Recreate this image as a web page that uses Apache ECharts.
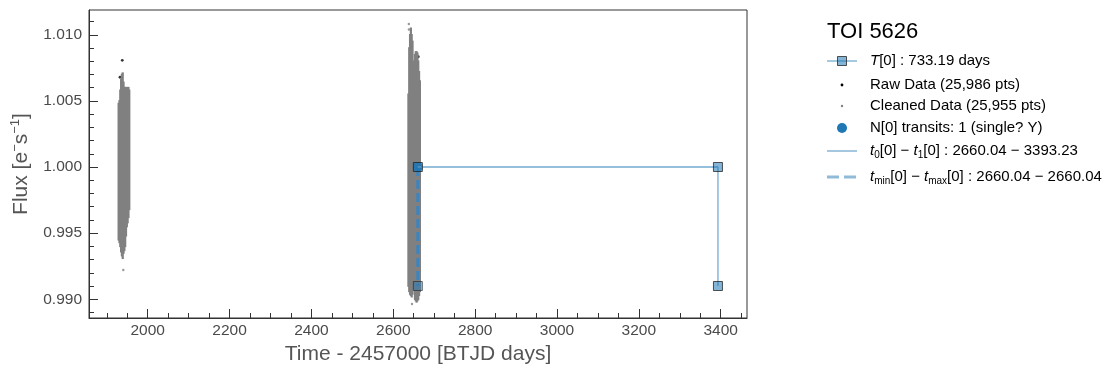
<!DOCTYPE html>
<html><head><meta charset="utf-8">
<script src="https://cdn.jsdelivr.net/npm/echarts@6/dist/echarts.min.js"></script>
<style>html,body{margin:0;padding:0;background:#fff}#c{width:1117px;height:373px}</style>
</head><body><div id="c"></div>
<script>
// ---- data ----
// cleaned-data envelope per ~2-day column: [time, fluxLow, fluxHigh]
const sector1Cols = [
  [1929, 0.9945, 1.0048], [1931, 0.9943, 1.0050], [1933, 0.9940, 1.0058],
  [1935, 0.9936, 1.0066], [1937, 0.9933, 1.0070], [1939, 0.9931, 1.0071],
  [1941, 0.9935, 1.0064],
  [1943, 0.9937, 1.0060], [1945, 0.9940, 1.0060], [1947, 0.9948, 1.0060],
  [1949, 0.9955, 1.0058], [1951, 0.9958, 1.0060], [1953, 0.9962, 1.0060],
  [1955, 0.9968, 1.0058]
];
const sector2Cols = [
  [2637, 0.9910, 1.0055], [2639, 0.9906, 1.0090], [2641, 0.9904, 1.0100],
  [2643, 0.9903, 1.0105], [2645, 0.9902, 1.0100], [2647, 0.9904, 1.0095],
  [2649, 0.9908, 1.0080],
  [2653, 0.9900, 1.0085], [2655, 0.9899, 1.0087], [2657, 0.9898, 1.0087],
  [2659, 0.9899, 1.0086], [2661, 0.9900, 1.0080], [2663, 0.9903, 1.0072],
  [2665, 0.9906, 1.0065]
];
// isolated cleaned points outside the dense band
const cleanedOutliers = [
  [1940.4, 0.99221], [2645.7, 0.98964], [2638.0, 1.01082], [2638.2, 1.01040]
];
// raw points removed by cleaning
const rawOutliers = [
  [1937.9, 1.00807], [1932.3, 1.00679], [1947.0, 1.00567], [1951.1, 1.00542],
  [2661.1, 1.00834], [2650.6, 1.00653], [2640.1, 1.00537]
];
const transitTime = [2660.04];
const transitFlux = [1.0];
const periodPath = [[2660.04, 1.0], [3393.23, 1.0], [3393.23, 0.991]];
const periodBase = [[2660.04, 0.991]];
const t0t1Line = [[2660.04, 1.0], [3393.23, 1.0]];
const tminTmaxLine = [[2660.04, 1.0], [2660.04, 0.991]];

const xMajorTicks = [2000, 2200, 2400, 2600, 2800, 3000, 3200, 3400];
const xMinorTicks = [1900, 1950, 2050, 2100, 2150, 2250, 2300, 2350, 2450, 2500, 2550,
  2650, 2700, 2750, 2850, 2900, 2950, 3050, 3100, 3150, 3250, 3300, 3350, 3450];
const yMajorTicks = [0.990, 0.995, 1.000, 1.005, 1.010];
const yMinorTicks = [0.989, 0.991, 0.992, 0.993, 0.994, 0.996, 0.997, 0.998, 0.999,
  1.001, 1.002, 1.003, 1.004, 1.006, 1.007, 1.008, 1.009, 1.011];

const titleText = 'TOI 5626';
const legendLabels = [
  '{i|T}[0] : 733.19 days',
  'Raw Data (25,986 pts)',
  'Cleaned Data (25,955 pts)',
  'N[0] transits: 1 (single? Y)',
  '{i|t}{sub|0}[0] − {i|t}{sub|1}[0] : 2660.04 − 3393.23',
  '{i|t}{sub|min}[0] − {i|t}{sub|max}[0] : 2660.04 − 2660.04'
];

// ---- chart ----
const FONT = '"Liberation Sans", Arial, sans-serif';
const chart = echarts.init(document.getElementById('c'), null, {renderer: 'canvas'});
const X_MIN = 1856.6, X_MAX = 3464.2, Y_MIN = 0.98858, Y_MAX = 1.011876;
const COL_DAYS = 2;
const LIGHT_BLUE = '#8fbbd9';
const SQUARE_FILL = 'rgba(31,119,180,0.55)';
const SQUARE_EDGE = 'rgba(30,30,30,0.75)';

function renderBand(params, api) {
  const t = api.value(0), lo = api.value(1), hi = api.value(2);
  const a = api.coord([t, hi]);
  const b = api.coord([t, lo]);
  const w = api.size([COL_DAYS, 0])[0] + 1.4;
  return {
    type: 'rect',
    shape: {x: a[0] - w / 2, y: a[1] - 0.8, width: w, height: b[1] - a[1] + 1.6},
    style: {fill: '#808080'}
  };
}

// ---- hand-built legend (graphic) ----
const LX0 = 827, LX1 = 857, LXC = 842, TX = 870;
const legendY = [61, 85, 106, 128, 151, 177];
const richLegend = {
  i: {fontStyle: 'italic', fontSize: 15, fontFamily: FONT, fill: '#000', lineHeight: 18},
  sub: {fontSize: 10, fontFamily: FONT, fill: '#000', lineHeight: 10, verticalAlign: 'bottom'}
};
const legendGraphics = [];
legendGraphics.push({type: 'line', shape: {x1: LX0, y1: legendY[0], x2: LX1, y2: legendY[0]}, style: {stroke: LIGHT_BLUE, lineWidth: 1.6}});
legendGraphics.push({type: 'rect', shape: {x: LXC - 4.5, y: legendY[0] - 4.5, width: 9, height: 9}, style: {fill: SQUARE_FILL, stroke: SQUARE_EDGE, lineWidth: 1}});
legendGraphics.push({type: 'circle', shape: {cx: LXC, cy: legendY[1], r: 1.4}, style: {fill: '#000'}});
legendGraphics.push({type: 'circle', shape: {cx: LXC, cy: legendY[2], r: 1.2}, style: {fill: '#808080'}});
legendGraphics.push({type: 'circle', shape: {cx: LXC, cy: legendY[3], r: 5}, style: {fill: '#1f77b4'}});
legendGraphics.push({type: 'line', shape: {x1: LX0, y1: legendY[4], x2: LX1, y2: legendY[4]}, style: {stroke: LIGHT_BLUE, lineWidth: 1.6}});
legendGraphics.push({type: 'line', shape: {x1: LX0, y1: legendY[5], x2: LX1, y2: legendY[5]}, style: {stroke: LIGHT_BLUE, lineWidth: 3, lineDash: [12, 5]}});
legendLabels.forEach((txt, k) => {
  legendGraphics.push({
    type: 'text', x: TX, y: legendY[k],
    style: {text: txt, fontSize: 15, fontFamily: FONT, fill: '#000', verticalAlign: 'middle', align: 'left', rich: richLegend}
  });
});

const option = {
  animation: false,
  backgroundColor: '#fff',
  title: {
    text: titleText, left: 827, top: 21, padding: 0,
    textStyle: {fontSize: 22, fontWeight: 'normal', color: '#000', fontFamily: FONT}
  },
  graphic: legendGraphics,
  grid: {left: 89, top: 10, width: 658, height: 308, show: true, borderColor: '#333', borderWidth: 1, backgroundColor: 'transparent'},
  xAxis: [{
    type: 'value', min: X_MIN, max: X_MAX, gridIndex: 0, position: 'bottom',
    name: 'Time - 2457000 [BTJD days]', nameLocation: 'middle', nameGap: 23,
    nameTextStyle: {fontSize: 21, color: '#555', fontFamily: FONT},
    axisLine: {show: true, lineStyle: {color: '#333'}},
    axisTick: {show: true, inside: true, length: 9, customValues: xMajorTicks, lineStyle: {color: '#333'}},
    axisLabel: {show: true, customValues: xMajorTicks, margin: 5, fontSize: 15.5, color: '#4a4a4a', fontFamily: FONT,
      formatter: (v) => String(Math.round(v))},
    splitLine: {show: false}
  }, {
    type: 'value', min: X_MIN, max: X_MAX, gridIndex: 0, position: 'bottom',
    axisLine: {show: false},
    axisTick: {show: true, inside: true, length: 5, customValues: xMinorTicks, lineStyle: {color: '#333'}},
    axisLabel: {show: false},
    splitLine: {show: false}
  }],
  yAxis: [{
    type: 'value', min: Y_MIN, max: Y_MAX, gridIndex: 0, position: 'left',
    name: 'Flux [e{sup|−}s{sup|−1}]', nameLocation: 'middle', nameGap: 51, nameRotate: 90,
    nameTextStyle: {fontSize: 21, color: '#555', fontFamily: FONT, lineHeight: 23,
      rich: {sup: {fontSize: 13, color: '#555', fontFamily: FONT, verticalAlign: 'top', lineHeight: 12}}},
    axisLine: {show: true, lineStyle: {color: '#333'}},
    axisTick: {show: true, inside: true, length: 9, customValues: yMajorTicks, lineStyle: {color: '#333'}},
    axisLabel: {show: true, customValues: yMajorTicks, margin: 7, fontSize: 15.5, color: '#4a4a4a', fontFamily: FONT,
      formatter: (v) => v.toFixed(3)},
    splitLine: {show: false}
  }, {
    type: 'value', min: Y_MIN, max: Y_MAX, gridIndex: 0, position: 'left',
    axisLine: {show: false},
    axisTick: {show: true, inside: true, length: 5, customValues: yMinorTicks, lineStyle: {color: '#333'}},
    axisLabel: {show: false},
    splitLine: {show: false}
  }],
  series: [
    {
      name: 'Raw Data', type: 'scatter', data: rawOutliers, symbol: 'circle', symbolSize: 2.8,
      itemStyle: {color: '#000'}, z: 2
    },
    {
      name: 'cleanedBand', type: 'custom', renderItem: renderBand,
      data: sector1Cols.concat(sector2Cols), encode: {x: 0, y: [1, 2]}, z: 3, silent: true
    },
    {
      name: 'Cleaned Data', type: 'scatter', data: cleanedOutliers, symbol: 'circle', symbolSize: 2.4,
      itemStyle: {color: '#808080'}, z: 3
    },
    {
      name: 't0-t1', type: 'line', data: t0t1Line, showSymbol: false, symbol: 'none',
      lineStyle: {color: LIGHT_BLUE, width: 1.6}, z: 4
    },
    {
      name: 'tmin-tmax', type: 'line', data: tminTmaxLine, showSymbol: false, symbol: 'none',
      lineStyle: {color: '#3a84c0', width: 3, type: [9, 4]}, z: 5
    },
    {
      name: 'N[0] transits', type: 'scatter',
      data: transitTime.map((t, k) => [t, transitFlux[k]]), symbol: 'circle', symbolSize: 10,
      itemStyle: {color: '#1f77b4'}, z: 6
    },
    {
      name: 'T[0]', type: 'line', data: periodPath, showSymbol: true, symbol: 'rect', symbolSize: 9,
      lineStyle: {color: LIGHT_BLUE, width: 1.6},
      itemStyle: {color: SQUARE_FILL, borderColor: SQUARE_EDGE, borderWidth: 1}, z: 7
    },
    {
      name: 'periodBase', type: 'scatter', data: periodBase, symbol: 'rect', symbolSize: 9,
      itemStyle: {color: SQUARE_FILL, borderColor: SQUARE_EDGE, borderWidth: 1}, z: 7
    }
  ]
};
chart.setOption(option);
</script>
</body></html>
